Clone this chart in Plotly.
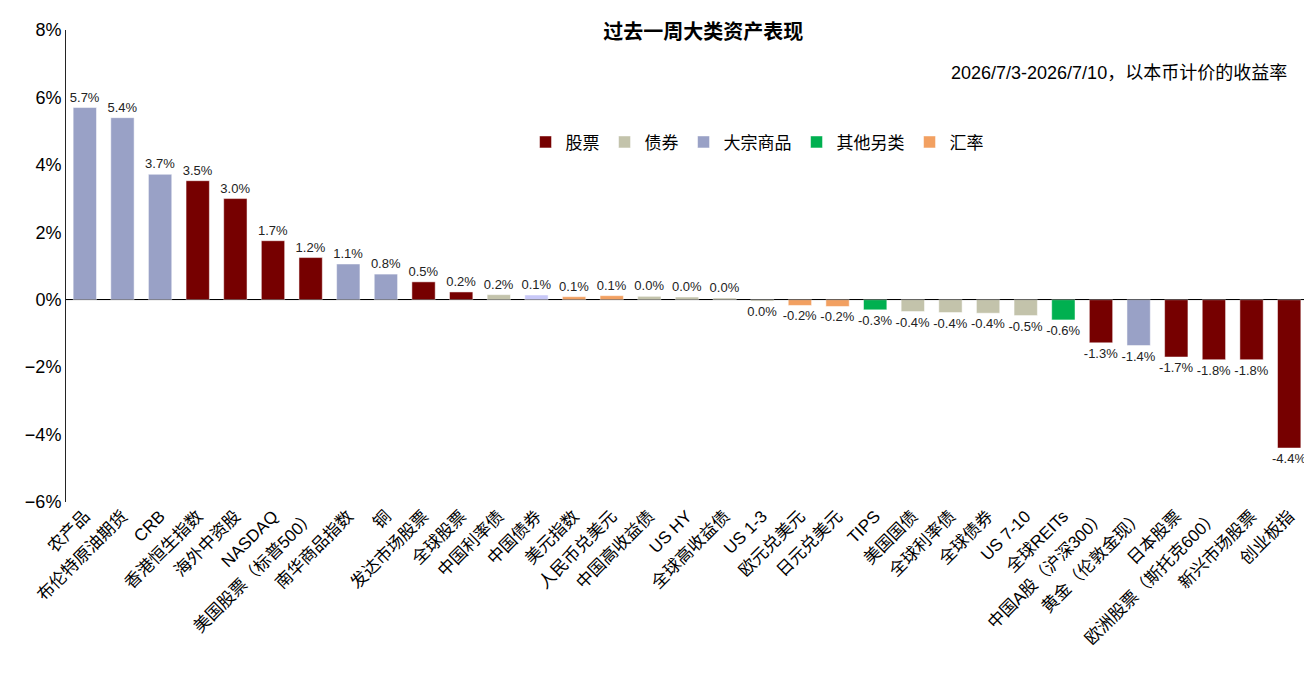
import plotly.graph_objects as go

categories = ["农产品", "布伦特原油期货", "CRB", "香港恒生指数", "海外中资股", "NASDAQ",
              "美国股票（标普500）", "南华商品指数", "铜", "发达市场股票", "全球股票", "中国利率债",
              "中国债券", "美元指数", "人民币兑美元", "中国高收益债", "US HY", "全球高收益债",
              "US 1-3", "欧元兑美元", "日元兑美元", "TIPS", "美国国债", "全球利率债", "全球债券",
              "US 7-10", "全球REITs", "中国A股（沪深300）", "黄金（伦敦金现）", "日本股票",
              "欧洲股票（斯托克600）", "新兴市场股票", "创业板指"]
values = [5.7, 5.4, 3.72, 3.53, 3.0, 1.75, 1.25, 1.06, 0.76, 0.53, 0.23, 0.15,
          0.14, 0.09, 0.12, 0.1, 0.08, 0.05, -0.04, -0.17, -0.2, -0.3, -0.35, -0.38, -0.4,
          -0.47, -0.6, -1.28, -1.36, -1.7, -1.78, -1.78, -4.4]
labels = ["5.7%", "5.4%", "3.7%", "3.5%", "3.0%", "1.7%", "1.2%", "1.1%", "0.8%", "0.5%",
          "0.2%", "0.2%", "0.1%", "0.1%", "0.1%", "0.0%", "0.0%", "0.0%", "0.0%", "-0.2%",
          "-0.2%", "-0.3%", "-0.4%", "-0.4%", "-0.4%", "-0.5%", "-0.6%", "-1.3%", "-1.4%",
          "-1.7%", "-1.8%", "-1.8%", "-4.4%"]
groups = ["大宗商品", "大宗商品", "大宗商品", "股票", "股票", "股票", "股票", "大宗商品", "大宗商品",
          "股票", "股票", "债券", "债券", "汇率", "汇率", "债券", "债券", "债券", "债券", "汇率",
          "汇率", "其他另类", "债券", "债券", "债券", "债券", "其他另类", "股票", "大宗商品",
          "股票", "股票", "股票", "股票"]

colors = {"股票": "#760000", "债券": "#c3c3ab", "大宗商品": "#99a1c6",
          "其他另类": "#00b050", "汇率": "#f2a061"}

fig = go.Figure()
for g in ["股票", "债券", "大宗商品", "其他另类", "汇率"]:
    idx = [i for i, gg in enumerate(groups) if gg == g]
    cols = [colors[g] for i in idx]
    if g == "债券":
        cols = ["#c8c8f8" if categories[i] == "中国债券" else colors[g] for i in idx]
    fig.add_trace(go.Bar(
        x=[categories[i] for i in idx], y=[values[i] for i in idx],
        text=[labels[i] for i in idx], textposition="outside", cliponaxis=False,
        constraintext="none", textfont=dict(size=13, color="#222"),
        marker_color=cols, name=g, width=0.62,
    ))

fig.update_layout(
    width=1312, height=688, template="simple_white", barmode="relative",
    font=dict(family="Arial, Noto Sans CJK SC", color="black"),
    title=dict(text="<b>过去一周大类资产表现</b>", x=0.53, y=0.975, font=dict(size=20)),
    margin=dict(l=58, r=12, t=18, b=194),
    legend=dict(orientation="h", x=0.37, y=0.80, font=dict(size=17), itemwidth=30),
    annotations=[dict(text="2026/7/3-2026/7/10，以本币计价的收益率", xref="paper", yref="paper",
                      x=0.985, y=0.935, xanchor="right", showarrow=False, font=dict(size=18))],
    xaxis=dict(categoryorder="array", categoryarray=categories, tickangle=-45,
               tickfont=dict(size=17), showline=False, ticks=""),
    yaxis=dict(range=[-6, 8], dtick=2, ticksuffix="%", tickfont=dict(size=18),
               zeroline=True, zerolinecolor="black", zerolinewidth=1, ticks=""),
)
fig.add_hline(y=0, line_color="black", line_width=1)

fig.write_html("out.html")
